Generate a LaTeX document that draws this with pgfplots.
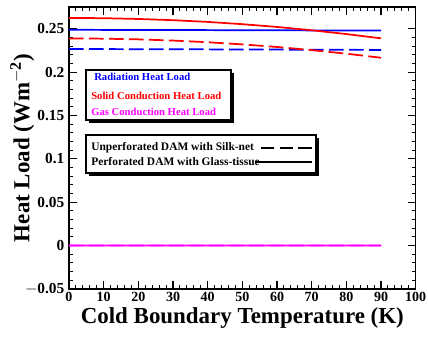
\documentclass[border=0pt]{standalone}
\usepackage{fontspec}
\setmainfont{Liberation Serif}
\usepackage{pgfplots}
\pgfplotsset{compat=1.18}
\definecolor{rblue}{RGB}{0,0,255}
\definecolor{rred}{RGB}{255,0,0}
\definecolor{rmag}{RGB}{255,0,255}
\begin{document}
\begin{tikzpicture}
\begin{axis}[
  at={(0,0)}, anchor=south west,
  scale only axis, width=260pt, height=211.5pt,
  xmin=0, xmax=100, ymin=-0.05, ymax=0.275,
  xtick={0,10,...,100},
  xticklabels={0,10,20,30,40,50,60,70,80,90,100},
  ytick={-0.05,0,0.05,0.1,0.15,0.2,0.25},
  yticklabels={$-$0.05,0,0.05,0.1,0.15,0.2,0.25},
  minor x tick num=4, minor y tick num=4,
  tick align=inside, tick pos=both,
  major tick length=6pt, minor tick length=3pt,
  every tick/.style={black, line width=0.8pt},
  axis line style={line width=1.1pt},
  xticklabel style={font=\fontsize{10.5}{12}\selectfont\bfseries, yshift=1pt},
  yticklabel style={font=\fontsize{11.5}{13}\selectfont\bfseries},
  xlabel={Cold Boundary Temperature (K)},
  ylabel={Heat Load (Wm$^{\mathbf{-2}}$)},
  xlabel style={font=\fontsize{17.2}{19}\selectfont\bfseries, at={(axis description cs:0.5,-0.103)}, anchor=center},
  ylabel style={font=\fontsize{17.2}{19}\selectfont\bfseries, at={(axis description cs:-0.135,0.5)}, anchor=center},
]
% Radiation
\addplot[rblue, line width=1.3pt] coordinates {(0,0.2487) (45,0.2483) (90,0.2478)};
\addplot[rblue, line width=1.3pt, dash pattern=on 11pt off 4pt] coordinates {(0,0.2266) (45,0.2261) (90,0.2255)};
% Solid conduction
\addplot[rred, line width=1.3pt] coordinates {(0,0.2624) (10,0.2621) (20,0.2612) (30,0.2598) (40,0.2578) (50,0.2552) (60,0.2520) (70,0.2482) (80,0.2438) (90,0.2389)};
\addplot[rred, line width=1.3pt, dash pattern=on 11pt off 4pt] coordinates {(0,0.2388) (10,0.2385) (20,0.2377) (30,0.2363) (40,0.2344) (50,0.2319) (60,0.2289) (70,0.2253) (80,0.2212) (90,0.2165)};
% Gas conduction
\addplot[color=rmag, line width=1.3pt, dash pattern=on 11pt off 4pt] coordinates {(0,0.0001) (45,0.00005) (90,0)};
\addplot[color=rmag, line width=1.3pt] coordinates {(0,0.0001) (45,0.00005) (90,0)};
\end{axis}
% legend 1
\fill[black] (14.75pt,124.75pt) rectangle (123.5pt,162.25pt);
\draw[fill=white, line width=0.8pt] (12.75pt,126.75pt) rectangle (121.5pt,164.25pt);
\node[anchor=west, text=rblue, font=\fontsize{8}{9}\selectfont\bfseries, inner sep=0pt] at (18.75pt,159pt) {Radiation Heat Load};
\node[anchor=west, text=rred, font=\fontsize{8}{9}\selectfont\bfseries, inner sep=0pt] at (16.5pt,144.75pt) {Solid Conduction Heat Load};
\node[anchor=west, text=rmag, font=\fontsize{8}{9}\selectfont\bfseries, inner sep=0pt] at (16.5pt,132.75pt) {Gas Conduction Heat Load};
% legend 2
\fill[black] (14.75pt,85pt) rectangle (187.25pt,113.5pt);
\draw[fill=white, line width=0.8pt] (12.75pt,87pt) rectangle (185.25pt,115.5pt);
\node[anchor=west, font=\fontsize{8.6}{10}\selectfont\bfseries, inner sep=0pt] at (16.5pt,105.75pt) {Unperforated DAM with Silk-net};
\node[anchor=west, font=\fontsize{8.6}{10}\selectfont\bfseries, inner sep=0pt] at (16.5pt,95.25pt) {Perforated DAM with Glass-tissue};
\draw[line width=1.1pt, dash pattern=on 10pt off 4pt] (144pt,105.75pt) -- (182.25pt,105.75pt);
\draw[line width=1.1pt] (140.5pt,95.25pt) -- (182.25pt,95.25pt);
\pgfresetboundingbox
\path (-51.75pt,-36.75pt) rectangle (269.25pt,216.75pt);
\end{tikzpicture}
\end{document}
